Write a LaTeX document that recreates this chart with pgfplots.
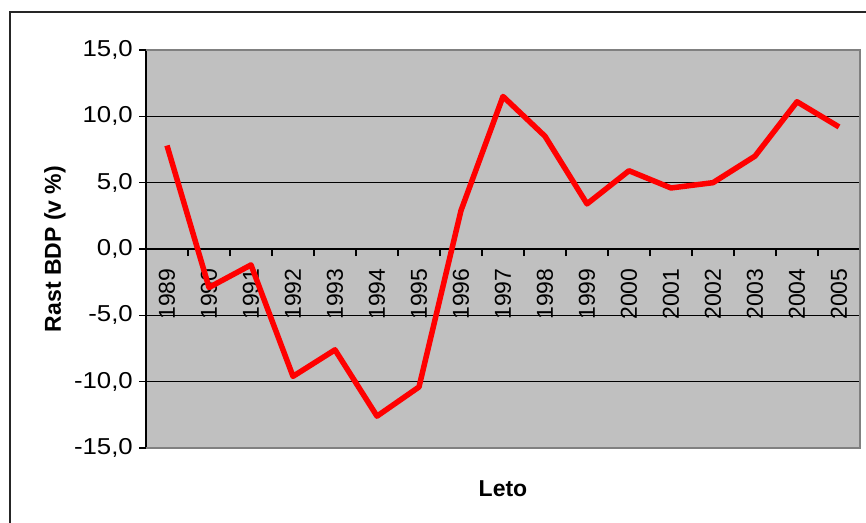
\documentclass[border=0pt]{standalone}
\usepackage{pgfplots}
\pgfplotsset{compat=1.18}
\usepackage{fontspec}
\setmainfont{Liberation Sans}
\definecolor{plotgray}{HTML}{C0C0C0}
\definecolor{bordergray}{HTML}{808080}
\newcommand{\tickfont}{\fontsize{23}{26}\selectfont}
\begin{document}
\begin{tikzpicture}[x=1pt,y=1pt]
\useasboundingbox (0,0) rectangle (866,522);
\draw[line width=2pt, black!85] (9.5,510) rectangle (900,-30);
\begin{axis}[
  at={(146pt,74pt)}, anchor=south west,
  scale only axis, width=714pt, height=398pt,
  xmin=0, xmax=17, ymin=-15, ymax=15,
  axis x line=middle, axis y line=left,
  hide obscured x ticks=false,
  hide obscured y ticks=false,
  axis line style={-, black, line width=1.3pt},
  axis background/.style={fill=plotgray},
  xtick={0,1,2,3,4,5,6,7,8,9,10,11,12,13,14,15,16,17},
  x tick label as interval,
  xticklabels={1989,1990,1991,1992,1993,1994,1995,1996,1997,1998,1999,2000,2001,2002,2003,2004,2005},
  ytick={-15,-10,-5,0,5,10,15},
  yticklabels={{-15,0},{-10,0},{-5,0},{0,0},{5,0},{10,0},{15,0}},
  tick align=outside,
  major tick length=7pt,
  tick style={black, line width=1.2pt},
  ymajorgrids,
  major grid style={black, line width=1pt},
  xticklabel shift=9pt,
  xticklabel style={font=\tickfont, rotate=90, anchor=east},
  yticklabel style={font=\tickfont, xscale=1.12, anchor=east, xshift=-2pt},
  xlabel={Leto}, ylabel={Rast BDP (v \%)},
  every axis x label/.style={at={(axis description cs:0.5,-0.103)}, anchor=center, font=\fontsize{23}{26}\selectfont\bfseries},
  every axis y label/.style={at={(axis description cs:-0.1275,0.5)}, rotate=90, anchor=center, font=\fontsize{23}{26}\selectfont\bfseries},
  clip=false,
  after end axis/.code={
    \draw[bordergray, line width=2pt] (rel axis cs:0,1) -- (rel axis cs:1,1) -- (rel axis cs:1,0) -- (rel axis cs:0,0);
  },
]
\addplot[red, line width=5.5pt, line join=round, no marks] coordinates {
  (0.5,7.8) (1.5,-2.9) (2.5,-1.2) (3.5,-9.6) (4.5,-7.6) (5.5,-12.6)
  (6.5,-10.4) (7.5,2.9) (8.5,11.5) (9.5,8.5) (10.5,3.4) (11.5,5.9)
  (12.5,4.6) (13.5,5.0) (14.5,7.0) (15.5,11.1) (16.5,9.2)
};
\end{axis}
\end{tikzpicture}
\end{document}
